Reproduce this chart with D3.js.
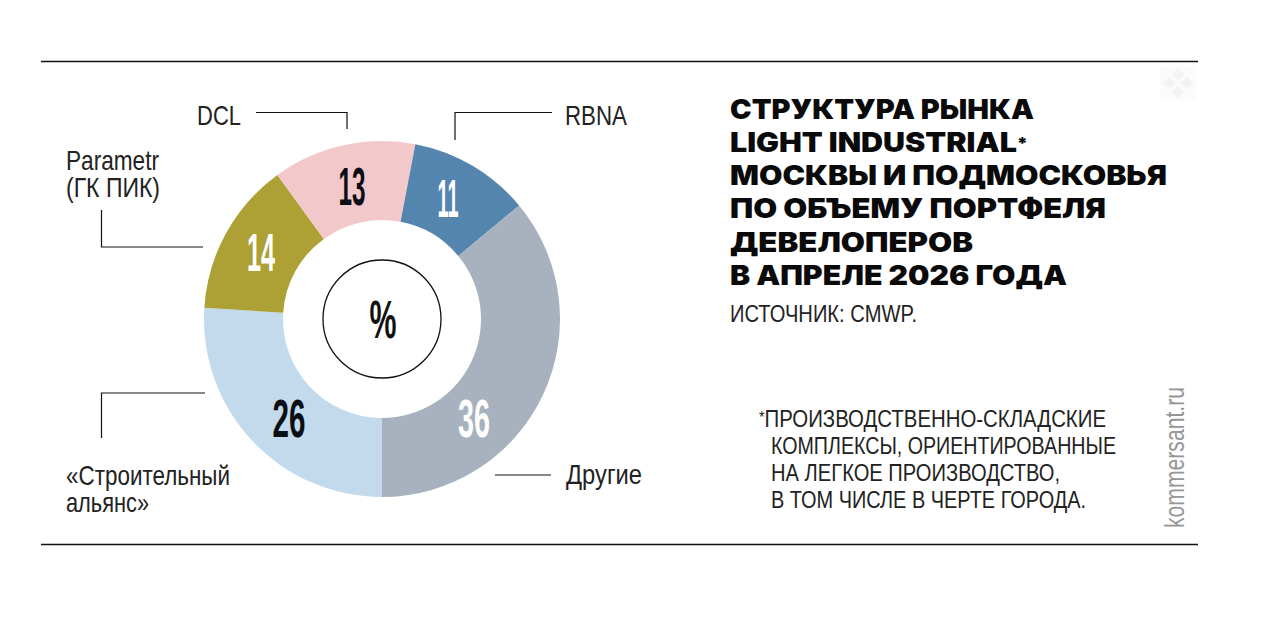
<!DOCTYPE html>
<html><head><meta charset="utf-8">
<script src="https://cdn.jsdelivr.net/npm/d3@7/dist/d3.min.js"></script>
<style>html,body{margin:0;background:#fff}svg{display:block}</style></head>
<body><svg id="c" width="1280" height="622"></svg>
<script>
const categories=["«Строительный альянс»","Parametr (ГК ПИК)","DCL","RBNA","Другие"];
const values=[26,14,13,11,36];
const colors=["#c3d9ec","#ada135","#f3c8cb","#5485ae","#a8b2bf"];
const valueColors=["#0b0f14","#fff","#0b0f14","#fff","#fff"];
const titleLines=["СТРУКТУРА РЫНКА","LIGHT INDUSTRIAL*","МОСКВЫ И ПОДМОСКОВЬЯ","ПО ОБЪЕМУ ПОРТФЕЛЯ","ДЕВЕЛОПЕРОВ","В АПРЕЛЕ 2026 ГОДА"];
const sourceText="ИСТОЧНИК: CMWP.";
const noteLines=["*ПРОИЗВОДСТВЕННО-СКЛАДСКИЕ","КОМПЛЕКСЫ, ОРИЕНТИРОВАННЫЕ","НА ЛЕГКОЕ ПРОИЗВОДСТВО,","В ТОМ ЧИСЛЕ В ЧЕРТЕ ГОРОДА."];

const svg=d3.select("#c");
const sans="'Liberation Sans',sans-serif";
const cx=382,cy=319,R=178,r=99;
[61.5,544.5].forEach(y=>svg.append("line").attr("x1",41).attr("x2",1198).attr("y1",y).attr("y2",y).attr("stroke","#111").attr("stroke-width",1.4));

// faint watermark, top right
const wm=svg.append("g").attr("transform","translate(1178,83)");
wm.append("rect").attr("x",-18).attr("y",-17).attr("width",36).attr("height",34).attr("fill","#fbfbfb");
[[0,-9],[-9,0],[9,0],[0,9]].forEach(p=>wm.append("rect").attr("x",-4.5).attr("y",-4.5).attr("width",9).attr("height",9)
  .attr("transform",`translate(${p[0]},${p[1]}) rotate(45)`).attr("fill","#f3f3f3"));

const pie=d3.pie().sort(null).startAngle(-Math.PI).endAngle(Math.PI);
const arc=d3.arc().innerRadius(r).outerRadius(R);
const g=svg.append("g").attr("transform",`translate(${cx},${cy})`);
g.selectAll("path").data(pie(values)).join("path").attr("d",arc).attr("fill",(d,i)=>colors[i]);
g.append("circle").attr("r",59).attr("fill","#fff").attr("stroke","#111").attr("stroke-width",1.3);

const numPos=[[-93,99],[-121,-67],[-30,-133],[66,-121],[92,99]];
const numW=[33,28,27,21,32];
function cond(x,y,txt,size,w,fill){
  g.append("text").attr("x",x).attr("y",y).attr("text-anchor","middle").attr("dy","0.35em")
   .attr("font-family",sans).attr("font-weight",700).attr("font-size",size).attr("fill",fill)
   .attr("textLength",w).attr("lengthAdjust","spacingAndGlyphs").text(txt);
}
values.forEach((v,i)=>cond(numPos[i][0],numPos[i][1],v,54,numW[i],valueColors[i]));
cond(1,0,"%",54,27,"#111");

const leaders=[
 "M205,393H101.5V438",
 "M203,247H101.5V210",
 "M256,112.5H347V129",
 "M455,140V112.5H552",
 "M495,475H551"];
svg.selectAll("path.l").data(leaders).join("path").attr("class","l").attr("d",d=>d).attr("fill","none").attr("stroke","#111").attr("stroke-width",1.2);

function put(x,y,txt,size,w,fill,opts={}){
  const t=svg.append("text").attr("x",x).attr("y",y).attr("font-family",opts.family||sans)
   .attr("font-weight",opts.weight||400).attr("font-size",size).attr("fill",fill)
   .attr("textLength",w).attr("lengthAdjust","spacingAndGlyphs").attr("transform",opts.t||null);
  if(txt.startsWith("*")){
    t.append("tspan").attr("font-size",size*0.7).attr("dy",-4).text("*");
    t.append("tspan").attr("dy",4).text(txt.slice(1));
  } else if(txt.endsWith("*")){
    t.append("tspan").text(txt.slice(0,-1));
    t.append("tspan").attr("font-size",size*0.6).attr("dy",-3).text("*");
  } else t.text(txt);
  return t;
}
[["DCL",197,125,44],["RBNA",565,125,62],["Parametr",66,170,93],["(ГК ПИК)",66,197,94],["«Строительный",66,485,164],["альянс»",66,512,83],["Другие",566,484,76]]
 .forEach(d=>put(d[1],d[2],d[0],28,d[3],"#222"));

const titleW=[304,298,437,376,243,337];
titleLines.forEach((t,i)=>put(730,118.5+i*33.3,t,27.5,titleW[i],"#0a0a0a",{family:"Inter,sans-serif",weight:900}));
put(730,321.5,sourceText,24,187,"#222");
const noteW=[347,345,289,315];
noteLines.forEach((t,i)=>put(i?771:759,426.5+i*27,t,24,noteW[i],"#222"));
put(0,0,"kommersant.ru",27,141,"#969696",{t:"translate(1184,528) rotate(-90)"});
</script></body></html>
